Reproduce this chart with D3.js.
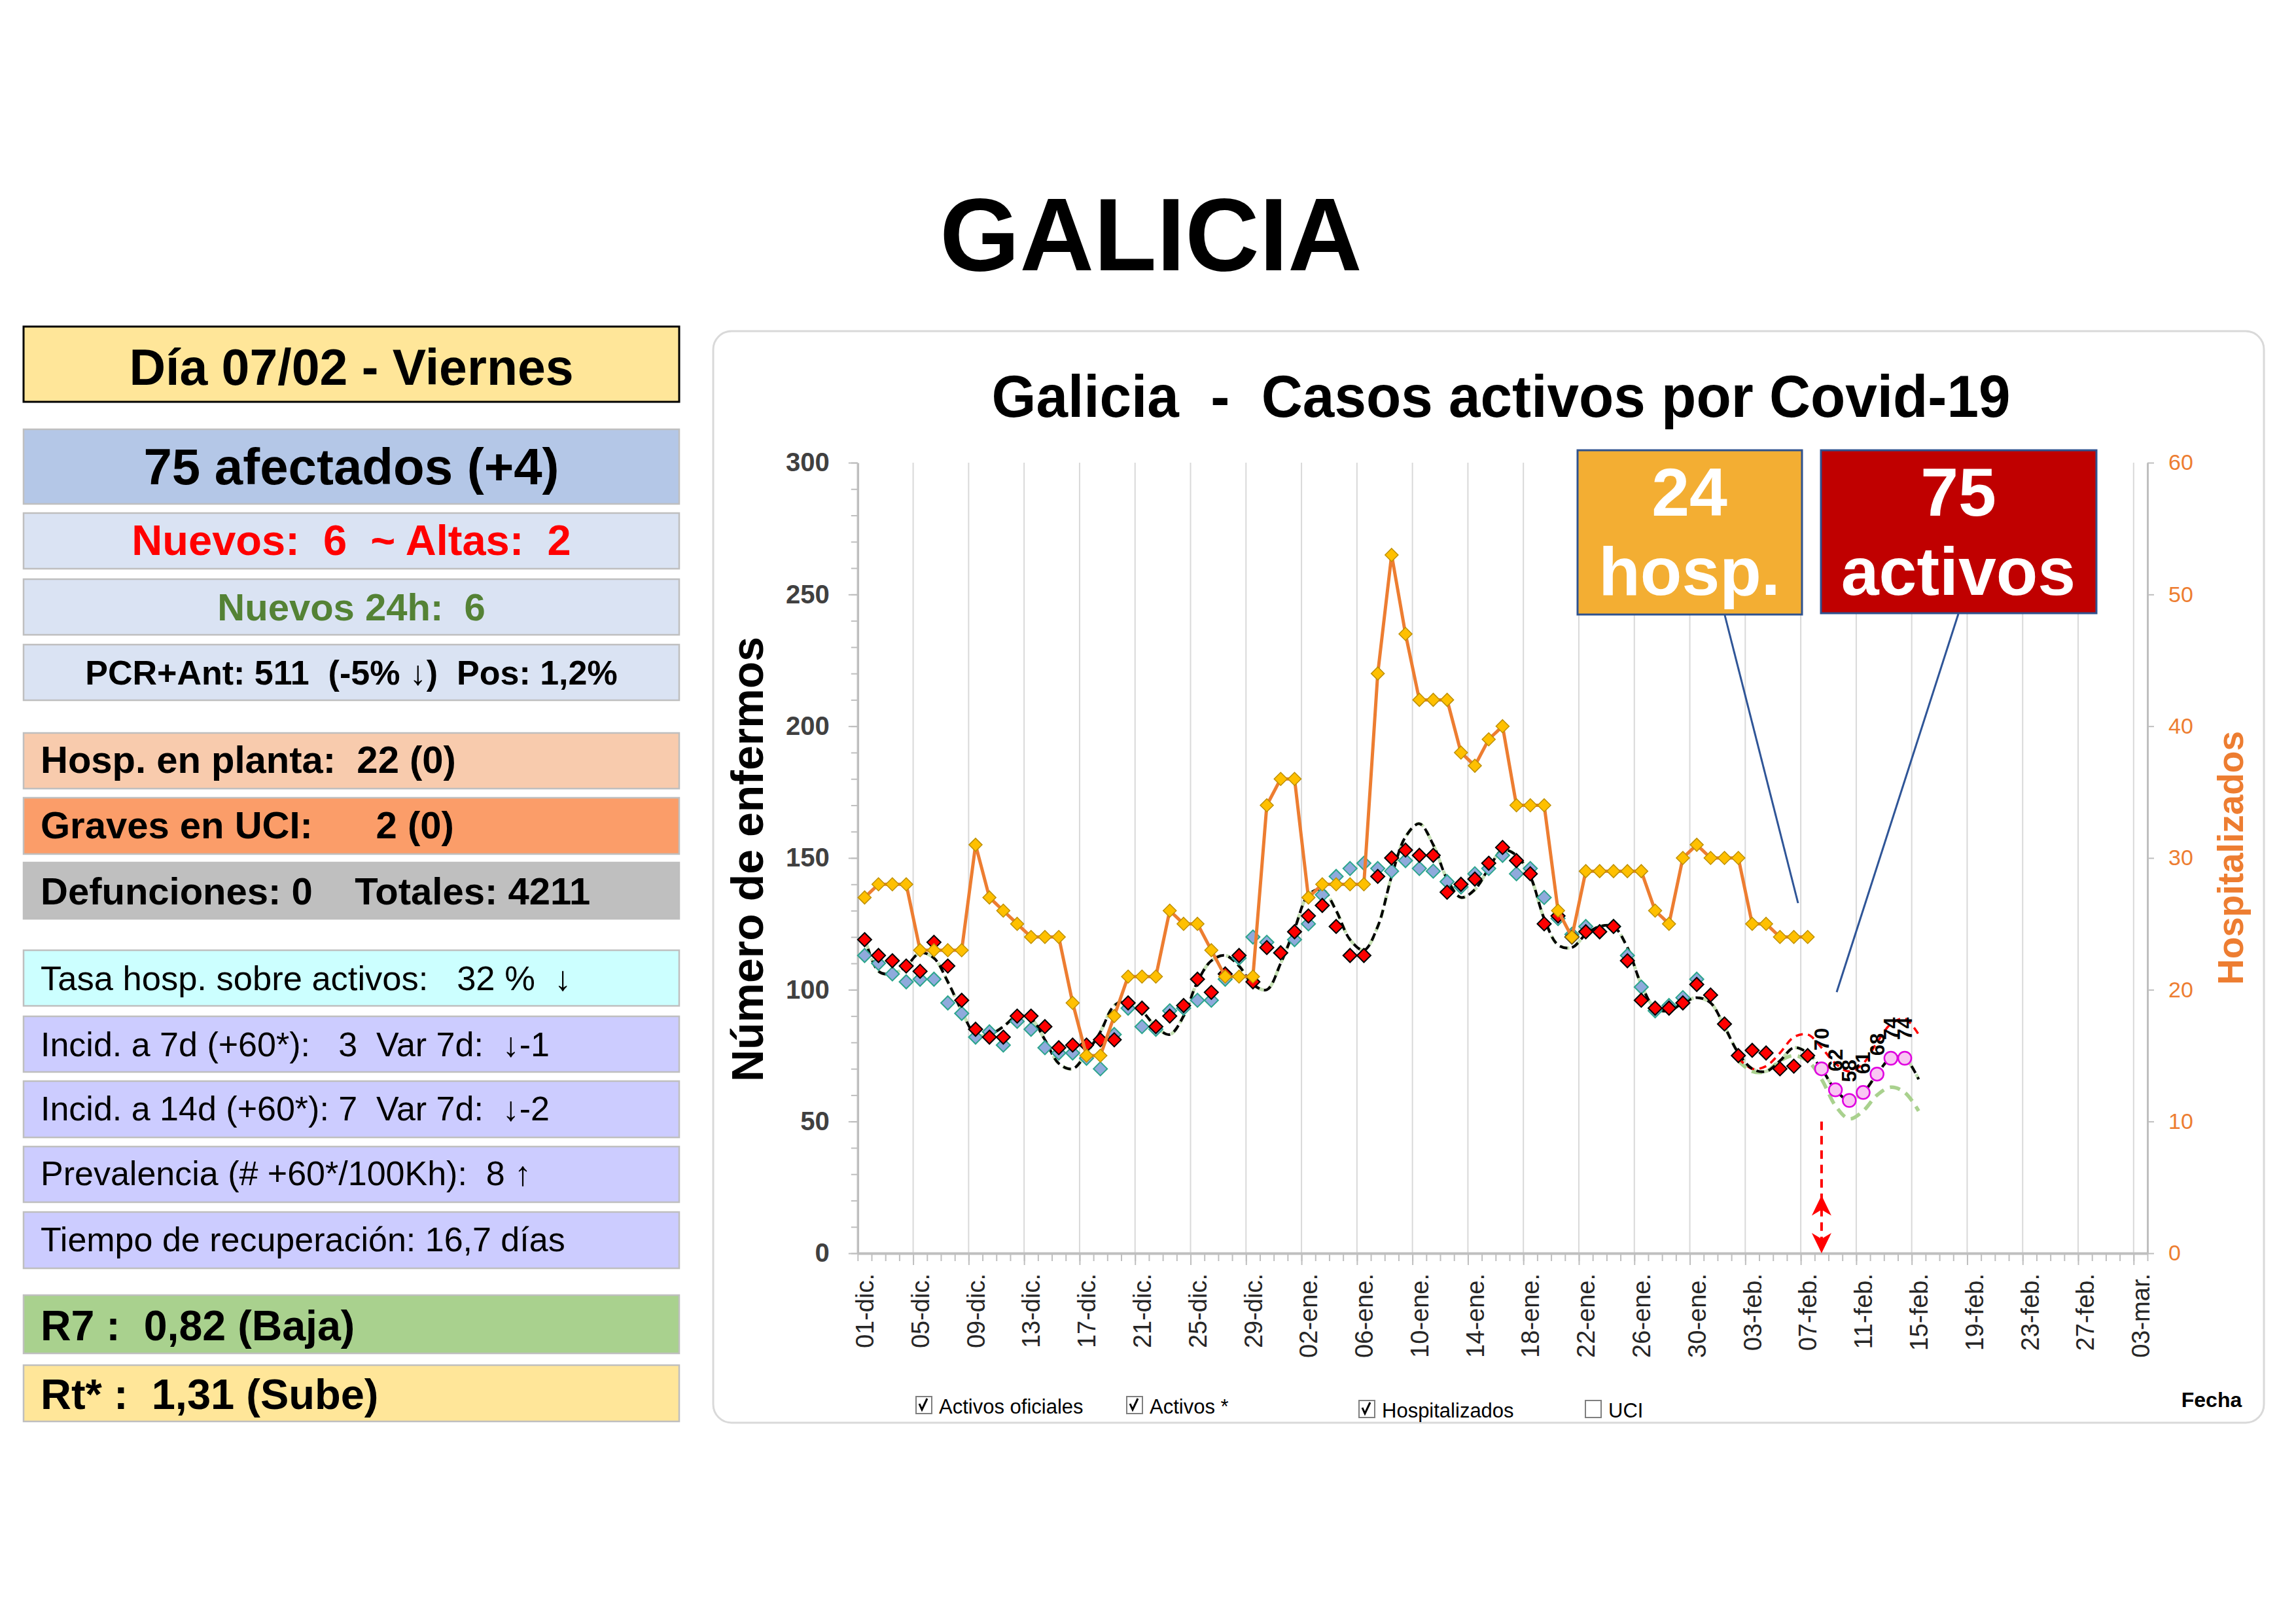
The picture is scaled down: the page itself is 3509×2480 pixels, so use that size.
<!DOCTYPE html>
<html><head><meta charset="utf-8">
<script src="https://cdn.jsdelivr.net/npm/d3@7"></script>
<style>body{margin:0;background:#fff} text{white-space:pre}</style>
</head><body><svg id="c" width="3509" height="2480"></svg>
<script>
// ---------------- DATA ----------------
// day index 0 = 01-dic, axis runs to day 92 = 03-mar
const xTickDays = [0,4,8,12,16,20,24,28,32,36,40,44,48,52,56,60,64,68,72,76,80,84,88,92];
const xTickLabels = ["01-dic.","05-dic.","09-dic.","13-dic.","17-dic.","21-dic.","25-dic.","29-dic.",
  "02-ene.","06-ene.","10-ene.","14-ene.","18-ene.","22-ene.","26-ene.","30-ene.",
  "03-feb.","07-feb.","11-feb.","15-feb.","19-feb.","23-feb.","27-feb.","03-mar."];
const yTicks = [0,50,100,150,200,250,300];
const yRightTicks = [0,10,20,30,40,50,60];

// Hospitalizados (right axis), days 0..68
const hospitalizados = [27,28,28,28,23,23,23,23,31,27,26,25,24,24,24,19,15,15,18,21,21,21,26,25,25,23,21,21,21,34,
  36,36,27,28,28,28,28,44,53,47,42,42,42,38,37,39,40,34,34,34,26,24,29,29,29,29,29,26,25,30,31,30,30,30,25,25,24,24,24];
// Activos oficiales (red diamonds), days 0..68
const activosOficiales = [119,113,111,109,107,118,109,96,85,82,82,90,90,86,78,79,79,81,81,95,93,86,90,94,104,99,106,113,103,116,
  114,122,128,132,124,113,113,143,150,153,151,151,137,140,142,148,154,149,144,125,128,120,122,122,124,111,96,93,93,95,102,98,87,75,77,76,70,71,75];
// Activos * (blue diamonds), days 0..60
const activosEstim = [113,110,106,103,104,104,95,91,82,84,79,88,85,78,76,76,74,70,83,93,86,85,92,93,96,96,104,112,120,118,
  114,119,125,136,143,146,148,146,145,149,146,145,141,139,144,146,151,144,146,135,127,121,124,122,124,113,101,92,94,97,104];
// Smoothed trend (black dashed), days 0..76
const tendencia = [120,107,106,109,114,112,103,92,83,83,86,90,89,81,72,70,76,84,94,96,92,86,83,90,103,111,113,109,102,100,
  110,123,136,138,130,119,115,124,143,158,163,155,142,135,138,146,153,151,143,127,117,116,121,124,124,116,102,93,92,95,
  97,95,86,76,70,69,73,78,76,70,62,58,61,68,74,74,66];
// Forecast points (pink circles), days 69..75
const prevDays = [69,70,71,72,73,74,75];
const prevision = [70,62,58,61,68,74,74];
// Forecast band, days 63..76
const bandDays = [63,64,65,66,67,68,69,70,71,72,73,74,75,76];
const bandaAlta = [74,70,71,76,82,83,78,72,69,72,80,87,89,83];
const bandaBaja = [73,69,69,73,75,73,66,56,51,54,60,63,61,54];
const arrowDay = 69;
const calloutHosp = "24", calloutActivos = "75";

// Left panel
const panelRows = [
  {y0:499, y1:614, fill:"#FFE699", stroke:"#000", sw:3, text:"Día 07/02 - Viernes", size:77, bold:true, color:"#000", mid:true, base:588},
  {y0:656, y1:770, fill:"#B4C7E7", text:"75 afectados (+4)", size:78, bold:true, color:"#000", mid:true, base:740},
  {y0:784, y1:869, fill:"#DAE3F3", text:"Nuevos:  6  ~ Altas:  2", size:65, bold:true, color:"#FF0000", mid:true, base:848},
  {y0:885, y1:970, fill:"#DAE3F3", text:"Nuevos 24h:  6", size:58, bold:true, color:"#548235", mid:true, base:948},
  {y0:985, y1:1070, fill:"#DAE3F3", text:"PCR+Ant: 511  (-5% ↓)  Pos: 1,2%", size:52, bold:true, color:"#000", mid:true, base:1046},
  {y0:1120, y1:1205, fill:"#F8CBAD", text:"Hosp. en planta:  22 (0)", size:58, bold:true, color:"#000", base:1181},
  {y0:1219, y1:1305, fill:"#FB9D69", text:"Graves en UCI:      2 (0)", size:58, bold:true, color:"#000", base:1281},
  {y0:1318, y1:1404, fill:"#BFBFBF", text:"Defunciones: 0    Totales: 4211", size:58, bold:true, color:"#000", base:1382},
  {y0:1452, y1:1537, fill:"#CCFFFF", text:"Tasa hosp. sobre activos:   32 %  ↓", size:52.5, color:"#000", base:1513},
  {y0:1553, y1:1638, fill:"#CCCCFF", text:"Incid. a 7d (+60*):   3  Var 7d:  ↓-1", size:52, color:"#000", base:1614},
  {y0:1652, y1:1738, fill:"#CCCCFF", text:"Incid. a 14d (+60*): 7  Var 7d:  ↓-2", size:52, color:"#000", base:1712},
  {y0:1752, y1:1837, fill:"#CCCCFF", text:"Prevalencia (# +60*/100Kh):  8 ↑", size:52, color:"#000", base:1811},
  {y0:1852, y1:1938, fill:"#CCCCFF", text:"Tiempo de recuperación: 16,7 días", size:52, color:"#000", base:1912},
  {y0:1979, y1:2068, fill:"#A9D18E", text:"R7 :  0,82 (Baja)", size:64.5, bold:true, color:"#000", base:2048},
  {y0:2086, y1:2172, fill:"#FFE699", text:"Rt* :  1,31 (Sube)", size:65, bold:true, color:"#000", base:2153}
];
const legendItems = [
  {label:"Activos oficiales", checked:true, bx:1400, ty:2160},
  {label:"Activos *", checked:true, bx:1722, ty:2160},
  {label:"Hospitalizados", checked:true, bx:2077, ty:2166},
  {label:"UCI", checked:false, bx:2423, ty:2166}
];

// ---------------- DRAW ----------------
const FONT = '"Liberation Sans", Arial, sans-serif';
const svg = d3.select("#c").style("font-family", FONT);
svg.append("rect").attr("width",3509).attr("height",2480).attr("fill","#fff");

svg.append("text").attr("x",1759).attr("y",413).attr("text-anchor","middle")
  .attr("font-size",157).attr("font-weight","bold").attr("fill","#000").text("GALICIA");

// left panel
const pg = svg.append("g");
panelRows.forEach(r => {
  pg.append("rect").attr("x",36).attr("y",r.y0).attr("width",1002).attr("height",r.y1-r.y0)
    .attr("fill",r.fill).attr("stroke",r.stroke||"#BFBFBF").attr("stroke-width",r.sw||2.5);
  pg.append("text").attr("x", r.mid ? 537 : 62).attr("y", r.base)
    .attr("text-anchor", r.mid ? "middle" : "start")
    .attr("font-size", r.size).attr("font-weight", r.bold ? "bold" : "normal")
    .attr("fill", r.color).text(r.text);
});

// chart frame
svg.append("rect").attr("x",1090).attr("y",506).attr("width",2370).attr("height",1668).attr("rx",28)
  .attr("fill","#fff").attr("stroke","#D9D9D9").attr("stroke-width",3);
svg.append("text").attr("x",2294).attr("y",637).attr("text-anchor","middle")
  .attr("font-size",90).attr("font-weight","bold").attr("textLength",1557).attr("lengthAdjust","spacingAndGlyphs")
  .attr("fill","#000").text("Galicia  -  Casos activos por Covid-19");

const x = d3.scaleLinear().domain([-0.5, 92.5]).range([1310.8, 3282]);
const y = d3.scaleLinear().domain([0, 300]).range([1915, 707]);
const yR = d3.scaleLinear().domain([0, 60]).range([1915, 707]);

// vertical gridlines every 4 days (category boundaries)
const gridB = d3.range(3.5, 92, 4);
svg.append("g").selectAll("line").data(gridB).join("line")
  .attr("x1",d=>x(d)).attr("x2",d=>x(d)).attr("y1",y(300)).attr("y2",y(0))
  .attr("stroke","#D9D9D9").attr("stroke-width",2);

// left axis
const gL = svg.append("g").attr("transform",`translate(${x(-0.5)},0)`);
gL.call(d3.axisLeft(y).tickValues(d3.range(0,301,10)).tickSize(10).tickSizeOuter(0).tickFormat(""));
gL.selectAll("line").attr("stroke","#BFBFBF").attr("stroke-width",2);
gL.select(".domain").attr("stroke","#BFBFBF").attr("stroke-width",3.5);
const gL2 = svg.append("g").attr("transform",`translate(${x(-0.5)},0)`);
gL2.call(d3.axisLeft(y).tickValues(yTicks).tickSize(14).tickSizeOuter(0).tickPadding(29));
gL2.select(".domain").remove();
gL2.selectAll("line").attr("stroke","#BFBFBF").attr("stroke-width",2);
gL2.selectAll("text").attr("font-size",40).attr("font-weight","bold").attr("fill","#404040").attr("font-family",FONT);

// right axis
const gR = svg.append("g").attr("transform",`translate(${x(92.5)},0)`);
gR.call(d3.axisRight(yR).tickValues(yRightTicks).tickSize(10).tickSizeOuter(0).tickPadding(22));
gR.select(".domain").attr("stroke","#BFBFBF").attr("stroke-width",3);
gR.selectAll("line").attr("stroke","#BFBFBF").attr("stroke-width",2);
gR.selectAll("text").attr("font-size",34).attr("fill","#ED7D31").attr("font-family",FONT);

// bottom axis
const gB = svg.append("g").attr("transform",`translate(0,${y(0)})`);
gB.call(d3.axisBottom(x).tickValues(d3.range(-0.5, 93, 1)).tickSize(12).tickSizeOuter(0).tickFormat(""));
gB.select(".domain").attr("stroke","#BFBFBF").attr("stroke-width",4);
gB.selectAll("line").attr("stroke","#BFBFBF").attr("stroke-width",2);
const gB2 = svg.append("g").attr("transform",`translate(0,${y(0)})`);
gB2.call(d3.axisBottom(x).tickValues(gridB).tickSize(18).tickSizeOuter(0).tickFormat(""));
gB2.select(".domain").remove();
gB2.selectAll("line").attr("stroke","#BFBFBF").attr("stroke-width",2);

svg.append("g").selectAll("text").data(xTickDays).join("text")
  .attr("transform", d => `translate(${x(d)},1946) rotate(-90)`)
  .attr("text-anchor","end").attr("dy","0.36em")
  .attr("font-size",38).attr("fill","#262626").text((d,i)=>xTickLabels[i]);

// axis titles
svg.append("text").attr("transform","translate(1166,1313) rotate(-90)").attr("text-anchor","middle")
  .attr("font-size",68).attr("font-weight","bold").attr("fill","#000").text("Número de enfermos");
svg.append("text").attr("transform","translate(3428,1311) rotate(-90)").attr("text-anchor","middle")
  .attr("font-size",55).attr("font-weight","bold").attr("fill","#ED7D31").text("Hospitalizados");
svg.append("text").attr("x",3380).attr("y",2150).attr("text-anchor","middle")
  .attr("font-size",32).attr("font-weight","bold").attr("fill","#000").text("Fecha");

// legend
const lg = svg.append("g");
legendItems.forEach(it => {
  lg.append("rect").attr("x",it.bx).attr("y",it.ty-26).attr("width",24).attr("height",26)
    .attr("fill","#fff").attr("stroke","#7F7F7F").attr("stroke-width",2);
  if (it.checked) lg.append("path").attr("d",`M${it.bx+5},${it.ty-15} L${it.bx+9},${it.ty-6} L${it.bx+17},${it.ty-23}`)
    .attr("fill","none").attr("stroke","#000").attr("stroke-width",3);
  lg.append("text").attr("x",it.bx+35).attr("y",it.ty).attr("font-size",31).attr("fill","#000").text(it.label);
});

// series
const smooth = d3.line().x(d=>x(d[0])).y(d=>y(d[1])).curve(d3.curveCatmullRom.alpha(0.5));
const trendPts = tendencia.map((v,i)=>[i,v]);
svg.append("path").attr("d",smooth(trendPts)).attr("fill","none")
  .attr("stroke","#C5E0B4").attr("stroke-width",5).attr("stroke-dasharray","14,8").attr("stroke-dashoffset",10);
svg.append("path").attr("d",smooth(bandDays.map((d,i)=>[d,bandaBaja[i]]))).attr("fill","none")
  .attr("stroke","#A9D18E").attr("stroke-width",5.5).attr("stroke-dasharray","16,10");
svg.append("path").attr("d",smooth(bandDays.map((d,i)=>[d,bandaAlta[i]]))).attr("fill","none")
  .attr("stroke","#FF0000").attr("stroke-width",3.5).attr("stroke-dasharray","11,8");
svg.append("path").attr("d",smooth(trendPts)).attr("fill","none")
  .attr("stroke","#000").attr("stroke-width",4).attr("stroke-dasharray","12,7");

const diamond = s => `M0,${-s}L${s},0L0,${s}L${-s},0Z`;
svg.append("g").selectAll("path").data(activosEstim).join("path")
  .attr("transform",(v,i)=>`translate(${x(i)},${y(v)})`).attr("d",diamond(10.5))
  .attr("fill","#8FAADC").attr("stroke","#2CA58D").attr("stroke-width",2);
svg.append("g").selectAll("path").data(activosOficiales).join("path")
  .attr("transform",(v,i)=>`translate(${x(i)},${y(v)})`).attr("d",diamond(10.5))
  .attr("fill","#FF0000").attr("stroke","#000").attr("stroke-width",2);

svg.append("path").datum(hospitalizados)
  .attr("d", d3.line().x((v,i)=>x(i)).y(v=>yR(v))).attr("fill","none")
  .attr("stroke","#ED7D31").attr("stroke-width",5).attr("stroke-linejoin","round");
svg.append("g").selectAll("path").data(hospitalizados).join("path")
  .attr("transform",(v,i)=>`translate(${x(i)},${yR(v)})`).attr("d",diamond(10))
  .attr("fill","#FFC000").attr("stroke","#BF9000").attr("stroke-width",1.5);

// forecast circles + labels
svg.append("g").selectAll("circle").data(prevision).join("circle")
  .attr("cx",(v,i)=>x(prevDays[i])).attr("cy",v=>y(v)).attr("r",10)
  .attr("fill","#F9C6F3").attr("stroke","#E000E0").attr("stroke-width",2.5);
svg.append("g").selectAll("text").data(prevision).join("text")
  .attr("transform",(v,i)=>`translate(${x(prevDays[i])+11},${y(v)-28}) rotate(-90)`)
  .attr("font-size",31).attr("font-weight","bold").attr("fill","#000").text(v=>v);

// red double arrow at forecast start
const ax = x(arrowDay);
svg.append("line").attr("x1",ax).attr("x2",ax).attr("y1",y(50)).attr("y2",y(0)-6)
  .attr("stroke","#FF0000").attr("stroke-width",4).attr("stroke-dasharray","13,9");
const up = y(22), dn = y(0);
svg.append("path").attr("d",`M${ax},${up}L${ax-15},${up+31}L${ax},${up+22}L${ax+15},${up+31}Z`).attr("fill","#FF0000");
svg.append("path").attr("d",`M${ax},${dn}L${ax-15},${dn-31}L${ax},${dn-22}L${ax+15},${dn-31}Z`).attr("fill","#FF0000");

// callouts
svg.append("line").attr("x1",2636).attr("y1",940).attr("x2",2748).attr("y2",1380).attr("stroke","#2F5597").attr("stroke-width",3);
svg.append("line").attr("x1",2993).attr("y1",938).attr("x2",2807).attr("y2",1516).attr("stroke","#2F5597").attr("stroke-width",3);
svg.append("rect").attr("x",2411).attr("y",688).attr("width",343).attr("height",251)
  .attr("fill","#F3AE33").attr("stroke","#2F528F").attr("stroke-width",3);
svg.append("rect").attr("x",2783).attr("y",688).attr("width",421).attr("height",249)
  .attr("fill","#C00000").attr("stroke","#2F528F").attr("stroke-width",3);
[[2582,788,calloutHosp],[2582,909,"hosp."],[2993,788,calloutActivos],[2993,909,"activos"]].forEach(t=>{
  svg.append("text").attr("x",t[0]).attr("y",t[1]).attr("text-anchor","middle")
    .attr("font-size",104).attr("font-weight","bold").attr("fill","#fff").text(t[2]);
});
</script></body></html>
